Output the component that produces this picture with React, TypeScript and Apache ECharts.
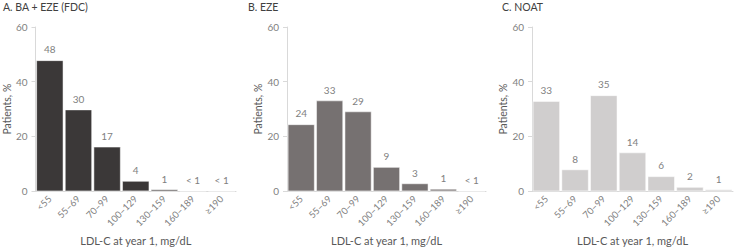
import React, { useEffect, useRef } from "react";
import * as echarts from "echarts";

const categories = ["<55", "55–69", "70–99", "100–129", "130–159", "160–189", "≥190"];
const yTicks = [0, 20, 40, 60];

const panelTitles = ["A. BA + EZE (FDC)", "B. EZE", "C. NOAT"];
const valuesA = [47.8, 29.8, 16.2, 3.7, 0.6, 0.15, 0.1];
const labelsA = ["48", "30", "17", "4", "1", "< 1", "< 1"];
const valuesB = [24.4, 33.1, 29.1, 8.8, 2.8, 0.8, 0.1];
const labelsB = ["24", "33", "29", "9", "3", "1", "< 1"];
const valuesC = [32.9, 7.9, 35, 14.1, 5.4, 1.5, 0.6];
const labelsC = ["33", "8", "35", "14", "6", "2", "1"];

const colors = ["#3b3838", "#767171", "#d0cece"];
const FONT = "Lato, 'Liberation Sans', sans-serif";

export default function App() {
  const ref = useRef<HTMLDivElement>(null);
  useEffect(() => {
    if (!ref.current) return;
    const chart = echarts.init(ref.current, undefined, { renderer: "svg" });
    const grids = [
      { left: 33, top: 27, width: 203, height: 166 },
      { left: 287, top: 27, width: 199, height: 166 },
      { left: 532, top: 27, width: 201, height: 166 },
    ];
    const titleX = [3, 248, 502];
    const allValues = [valuesA, valuesB, valuesC];
    const allLabels = [labelsA, labelsB, labelsC];
    chart.setOption({
      animation: false,
      textStyle: { fontFamily: FONT },
      title: panelTitles.map((t, i) => ({
        text: t,
        left: titleX[i],
        top: 1,
        padding: 0,
        textStyle: { fontSize: 10.5, fontWeight: "normal", color: "#404040", fontFamily: FONT },
      })),
      grid: grids,
      xAxis: grids.map((_, i) => ({
        type: "category",
        gridIndex: i,
        data: categories,
        name: "LDL-C at year 1, mg/dL",
        nameLocation: "middle",
        nameGap: 42,
        nameTextStyle: { fontSize: 11, color: "#595959", fontFamily: FONT },
        axisLine: { lineStyle: { color: "#d9d9d9", width: 1 } },
        axisTick: { show: false },
        axisLabel: { rotate: 45, fontSize: 9.5, color: "#7f7f7f", margin: 6, fontFamily: FONT, interval: 0 },
      })),
      yAxis: grids.map((_, i) => ({
        type: "value",
        gridIndex: i,
        min: 0,
        max: 60,
        interval: 20,
        name: "Patients, %",
        nameLocation: "middle",
        nameGap: 21,
        nameTextStyle: { fontSize: 10.5, color: "#595959", fontFamily: FONT },
        axisLine: { show: true, lineStyle: { color: "#d9d9d9", width: 1 } },
        axisTick: { show: true, length: 4, lineStyle: { color: "#d9d9d9" } },
        splitLine: { show: false },
        axisLabel: {
          fontSize: 10,
          color: "#7f7f7f",
          margin: 8,
          fontFamily: FONT,
          formatter: (v: number) => (yTicks.includes(v) ? String(v) : ""),
        },
      })),
      series: allValues.map((vals, i) => ({
        type: "bar",
        xAxisIndex: i,
        yAxisIndex: i,
        data: vals,
        barCategoryGap: "6%",
        itemStyle: { color: colors[i], borderColor: "#ffffff", borderWidth: 0.5 },
        label: {
          show: true,
          position: "top",
          distance: 6,
          fontSize: 10,
          color: "#7f7f7f",
          fontFamily: FONT,
          formatter: (p: any) => allLabels[i][p.dataIndex],
        },
      })),
    });
    return () => chart.dispose();
  }, []);
  return (
    <div
      ref={ref}
      style={{ position: "absolute", left: 0, top: 0, width: 738, height: 251, background: "#fff" }}
    />
  );
}
